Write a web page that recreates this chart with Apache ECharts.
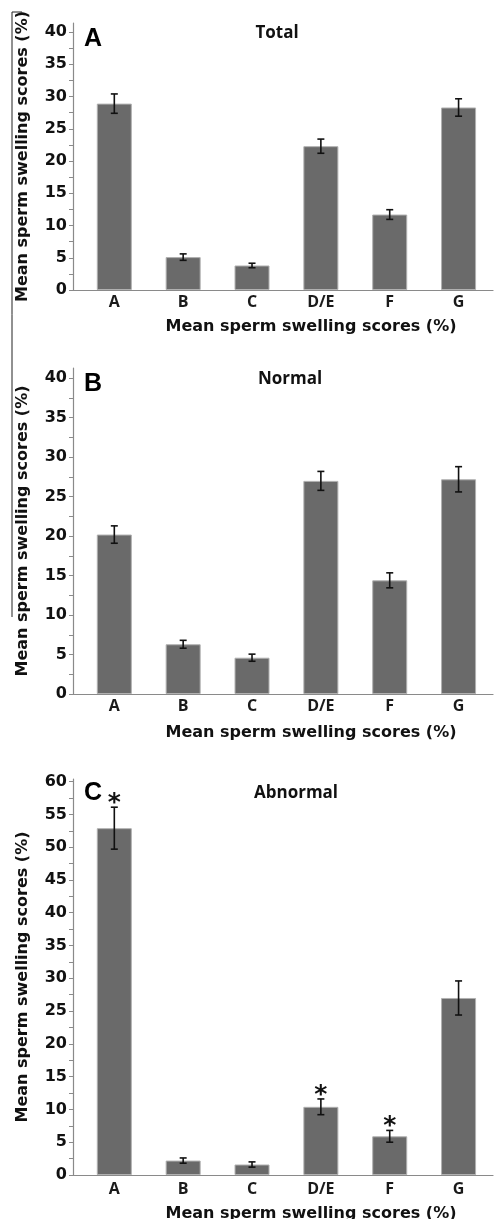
<!DOCTYPE html>
<html>
<head>
<meta charset="utf-8">
<script src="https://cdn.jsdelivr.net/npm/echarts@6/dist/echarts.min.js"></script>
<style>
html,body{margin:0;padding:0;background:#fff;}
#main{width:495px;height:1219px;}
</style>
</head>
<body>
<div id="main"></div>
<script>
const categories = ['A', 'B', 'C', 'D/E', 'F', 'G'];
const totalMean = [28.9, 5.1, 3.8, 22.3, 11.7, 28.3];
const totalErr = [1.5, 0.5, 0.35, 1.1, 0.75, 1.35];
const normalMean = [20.2, 6.3, 4.6, 27.0, 14.4, 27.2];
const normalErr = [1.1, 0.5, 0.45, 1.2, 0.95, 1.6];
const abnormalMean = [52.9, 2.2, 1.6, 10.4, 5.9, 27.0];
const abnormalErr = [3.2, 0.4, 0.4, 1.2, 0.9, 2.6];
const abnormalSig = ['*', '', '', '*', '*', ''];
const yTicksAB = [0, 5, 10, 15, 20, 25, 30, 35, 40];
const yTicksC = [0, 5, 10, 15, 20, 25, 30, 35, 40, 45, 50, 55, 60];
const panelTitles = ['Total', 'Normal', 'Abnormal'];
const panelLetters = ['A', 'B', 'C'];
const axisTitle = 'Mean sperm swelling scores (%)';

function withMinor(ticks) {
  const out = [];
  for (let i = 0; i < ticks.length; i++) {
    out.push(ticks[i]);
    if (i < ticks.length - 1) out.push((ticks[i] + ticks[i + 1]) / 2);
  }
  return out;
}

const grids = [
  { left: 73, right: 2, top: 23, height: 267, outerBoundsMode: 'none', containLabel: false },
  { left: 73, right: 2, top: 368, height: 326, outerBoundsMode: 'none', containLabel: false },
  { left: 73, right: 2, top: 779, height: 396, outerBoundsMode: 'none', containLabel: false }
];
const yMax = [41.4, 41.3, 60.4];
const yTicks = [yTicksAB, yTicksAB, yTicksC];
const means = [totalMean, normalMean, abnormalMean];
const errs = [totalErr, normalErr, abnormalErr];
const labelGap = [4, 4, 6];
const nameGapX = [29, 31, 31];

const axisColor = '#8a8a8a';
const xAxes = [], yAxes = [], series = [];
for (let p = 0; p < 3; p++) {
  xAxes.push({
    type: 'value', gridIndex: p, min: -0.6, max: 5.5,
    splitLine: { show: false },
    axisLine: { show: true, onZero: false, lineStyle: { color: axisColor, width: 1.2 } },
    axisTick: { show: false },
    axisLabel: {
      customValues: categories.map((c, i) => i),
      formatter: v => categories[Math.round(v)] || '',
      margin: labelGap[p],
      fontFamily: 'Open Sans', fontWeight: 'bold', fontSize: 16, color: '#1a1a1a'
    },
    name: axisTitle, nameLocation: 'middle', nameGap: nameGapX[p],
    nameTextStyle: { fontFamily: 'DejaVu Sans', fontWeight: 'bold', fontSize: 16, color: '#111', padding: [0, 0, 0, 56] }
  });
  yAxes.push({
    type: 'value', gridIndex: p, min: 0, max: yMax[p],
    splitLine: { show: false },
    axisLine: { show: true, onZero: false, lineStyle: { color: axisColor, width: 1.2 } },
    axisTick: { show: true, inside: false, length: 4, customValues: withMinor(yTicks[p]), lineStyle: { color: axisColor, width: 1 } },
    axisLabel: {
      customValues: yTicks[p], margin: 6,
      fontFamily: 'DejaVu Sans', fontWeight: 'bold', fontSize: 16, color: '#111'
    },
    name: axisTitle, nameLocation: 'middle', nameGap: 42, nameRotate: 90,
    nameTextStyle: { fontFamily: 'DejaVu Sans', fontWeight: 'bold', fontSize: 16, color: '#111' }
  });
  series.push({
    type: 'bar', xAxisIndex: p, yAxisIndex: p, barWidth: 35, z: 2,
    itemStyle: { color: '#6a6a6a', borderColor: '#b0b0b0', borderWidth: 1 },
    data: means[p].map((v, i) => [i, v]),
    silent: true
  });
  series.push({
    type: 'custom', xAxisIndex: p, yAxisIndex: p, silent: true, z: 5,
    data: means[p].map((v, i) => [i, v - errs[p][i], v + errs[p][i], p === 2 ? abnormalSig[i] : '']),
    renderItem: function (params, api) {
      const x = api.value(0);
      const lo = api.coord([x, api.value(1)]);
      const hi = api.coord([x, api.value(2)]);
      const cap = 3.5;
      const st = { stroke: '#111', lineWidth: 1.6 };
      const children = [
        { type: 'line', shape: { x1: lo[0], y1: lo[1], x2: hi[0], y2: hi[1] }, style: st },
        { type: 'line', shape: { x1: lo[0] - cap, y1: lo[1], x2: lo[0] + cap, y2: lo[1] }, style: st },
        { type: 'line', shape: { x1: hi[0] - cap, y1: hi[1], x2: hi[0] + cap, y2: hi[1] }, style: st }
      ];
      const sig = api.value(3);
      if (sig) {
        children.push({ type: 'text', x: hi[0], y: hi[1] + 9, style: { text: sig, fontFamily: 'DejaVu Sans', fontWeight: 'bold', fontSize: 25, fill: '#111', align: 'center', verticalAlign: 'bottom' } });
      }
      return { type: 'group', children: children };
    },
    encode: { x: 0, y: [1, 2] }
  });
}

const titleTops = [20, 366, 780];
const letterTops = [27, 372, 781];
const titles = [];
const titleX = [272, 285, 291];
for (let p = 0; p < 3; p++) {
  titles.push({ text: panelTitles[p], left: titleX[p], top: titleTops[p], textAlign: 'center',
    textStyle: { fontFamily: 'Open Sans', fontWeight: 'bold', fontSize: 17, color: '#111' } });
  titles.push({ text: panelLetters[p], left: 84, top: letterTops[p],
    textStyle: { fontFamily: 'Liberation Sans', fontWeight: 'bold', fontSize: 25, color: '#000' }, padding: 0 });
}

const chart = echarts.init(document.getElementById('main'), null, { renderer: 'canvas' });
chart.setOption({
  backgroundColor: '#fff',
  animation: false,
  title: titles,
  grid: grids,
  xAxis: xAxes,
  yAxis: yAxes,
  series: series,
  graphic: [
    { type: 'line', shape: { x1: 12, y1: 12, x2: 12, y2: 617 }, style: { stroke: '#222', lineWidth: 1 } },
    { type: 'line', shape: { x1: 12, y1: 12, x2: 22, y2: 12 }, style: { stroke: '#222', lineWidth: 1 } }
  ]
});
</script>
</body>
</html>
